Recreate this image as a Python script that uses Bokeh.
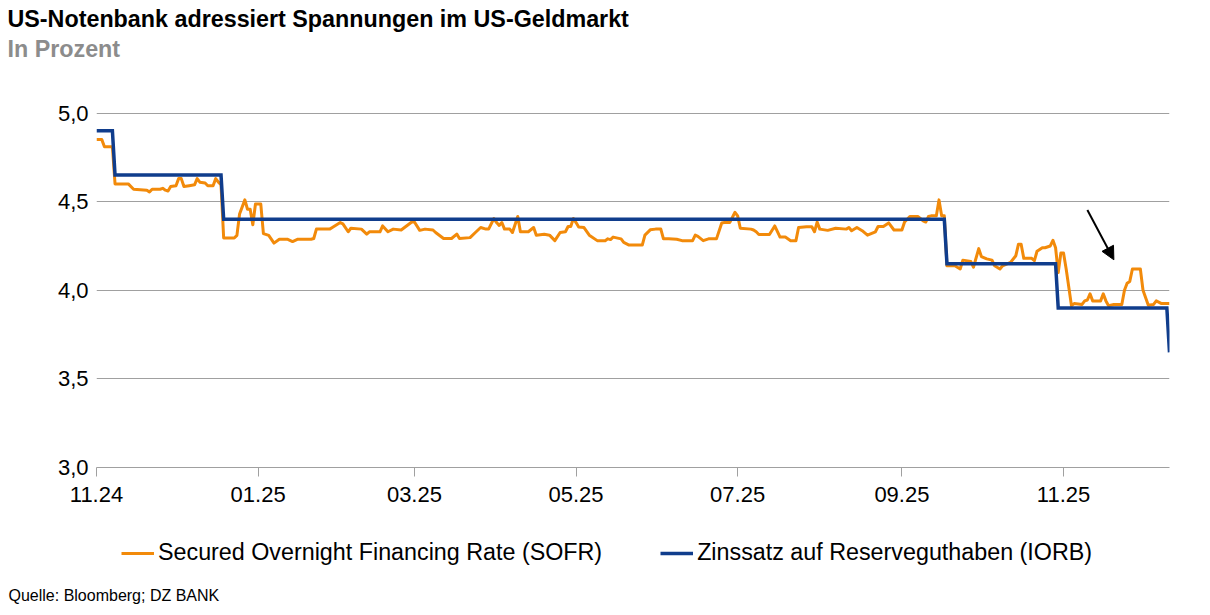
import pandas as pd
from bokeh.plotting import figure
from bokeh.layouts import column
from bokeh.models import (Range1d, FixedTicker, ColumnDataSource, Legend,
                          LegendItem, Arrow, NormalHead, Label)
from bokeh.embed import file_html
from bokeh.resources import INLINE

# ---------------- data ----------------
title_text = "US-Notenbank adressiert Spannungen im US-Geldmarkt"
subtitle_text = "In Prozent"
source_text = "Quelle: Bloomberg; DZ BANK"
sofr_name = "Secured Overnight Financing Rate (SOFR)"
iorb_name = "Zinssatz auf Reserveguthaben (IORB)"

sofr_dates = [
    "2024-11-01", "2024-11-03", "2024-11-04", "2024-11-07", "2024-11-08", "2024-11-13", "2024-11-15",
    "2024-11-20", "2024-11-21", "2024-11-22", "2024-11-25", "2024-11-26", "2024-11-27", "2024-11-28",
    "2024-11-29", "2024-12-01", "2024-12-02", "2024-12-03", "2024-12-04", "2024-12-06", "2024-12-08",
    "2024-12-09", "2024-12-10", "2024-12-12", "2024-12-13", "2024-12-15", "2024-12-16", "2024-12-17",
    "2024-12-18", "2024-12-19", "2024-12-23", "2024-12-24", "2024-12-25", "2024-12-27", "2024-12-28",
    "2024-12-29", "2024-12-30", "2024-12-31",
    "2025-01-02", "2025-01-03", "2025-01-05", "2025-01-07", "2025-01-09", "2025-01-12", "2025-01-14",
    "2025-01-16", "2025-01-21", "2025-01-22", "2025-01-23", "2025-01-28", "2025-01-29",
    "2025-02-01", "2025-02-02", "2025-02-04", "2025-02-05", "2025-02-09", "2025-02-11", "2025-02-12",
    "2025-02-16", "2025-02-17", "2025-02-19", "2025-02-21", "2025-02-24", "2025-02-28",
    "2025-03-01", "2025-03-03", "2025-03-05", "2025-03-08", "2025-03-09", "2025-03-12", "2025-03-15",
    "2025-03-17", "2025-03-18", "2025-03-22", "2025-03-24", "2025-03-26", "2025-03-28", "2025-03-29",
    "2025-03-31", "2025-04-01", "2025-04-02", "2025-04-03", "2025-04-04", "2025-04-06", "2025-04-07",
    "2025-04-09", "2025-04-10", "2025-04-13", "2025-04-15", "2025-04-16", "2025-04-19", "2025-04-21",
    "2025-04-23", "2025-04-25", "2025-04-27", "2025-04-28", "2025-04-29", "2025-04-30",
    "2025-05-01", "2025-05-02", "2025-05-04", "2025-05-06", "2025-05-09", "2025-05-12", "2025-05-13",
    "2025-05-14", "2025-05-15", "2025-05-18", "2025-05-19", "2025-05-21", "2025-05-26", "2025-05-27",
    "2025-05-29", "2025-05-31",
    "2025-06-02", "2025-06-03", "2025-06-05", "2025-06-08", "2025-06-10", "2025-06-14", "2025-06-15",
    "2025-06-16", "2025-06-18", "2025-06-20", "2025-06-23", "2025-06-25", "2025-06-26", "2025-06-28",
    "2025-06-30",
    "2025-07-01", "2025-07-02", "2025-07-06", "2025-07-07", "2025-07-08", "2025-07-09", "2025-07-13",
    "2025-07-15", "2025-07-17", "2025-07-19", "2025-07-21", "2025-07-23", "2025-07-24", "2025-07-27",
    "2025-07-29", "2025-07-30", "2025-07-31",
    "2025-08-01", "2025-08-04", "2025-08-07", "2025-08-11", "2025-08-12", "2025-08-13", "2025-08-15",
    "2025-08-17", "2025-08-19", "2025-08-22", "2025-08-23", "2025-08-25", "2025-08-27", "2025-08-29",
    "2025-09-01", "2025-09-02", "2025-09-04", "2025-09-07", "2025-09-09", "2025-09-10", "2025-09-11",
    "2025-09-12", "2025-09-14", "2025-09-15", "2025-09-16", "2025-09-17", "2025-09-18", "2025-09-21",
    "2025-09-23", "2025-09-24", "2025-09-27", "2025-09-28", "2025-09-30",
    "2025-10-01", "2025-10-03", "2025-10-05", "2025-10-06", "2025-10-08", "2025-10-09", "2025-10-12",
    "2025-10-14", "2025-10-15", "2025-10-16", "2025-10-17", "2025-10-20", "2025-10-21", "2025-10-22",
    "2025-10-24", "2025-10-25", "2025-10-27", "2025-10-28", "2025-10-29", "2025-10-30", "2025-10-31",
    "2025-11-01", "2025-11-02", "2025-11-04", "2025-11-05", "2025-11-08", "2025-11-09", "2025-11-10",
    "2025-11-11", "2025-11-12", "2025-11-15", "2025-11-16", "2025-11-17", "2025-11-18", "2025-11-20",
    "2025-11-23", "2025-11-24", "2025-11-25", "2025-11-26", "2025-11-27", "2025-11-30",
    "2025-12-01", "2025-12-03", "2025-12-05", "2025-12-06", "2025-12-08", "2025-12-11",
]
sofr_values = [
    4.85, 4.85, 4.81, 4.81, 4.60, 4.60, 4.57,
    4.565, 4.555, 4.57, 4.57, 4.575, 4.565, 4.56,
    4.585, 4.59, 4.63, 4.63, 4.585, 4.59, 4.595,
    4.63, 4.61, 4.605, 4.59, 4.59, 4.63, 4.61,
    4.595, 4.295, 4.295, 4.31, 4.43, 4.51, 4.457,
    4.457, 4.37, 4.487,
    4.487, 4.32, 4.31, 4.266, 4.288, 4.288, 4.275,
    4.288, 4.288, 4.292, 4.345, 4.345, 4.354,
    4.382, 4.375, 4.33, 4.35, 4.345, 4.317, 4.33,
    4.33, 4.363, 4.33, 4.345, 4.34, 4.385,
    4.385, 4.338, 4.345, 4.34, 4.326, 4.292, 4.292,
    4.317, 4.292, 4.297, 4.326, 4.354, 4.345, 4.345,
    4.405, 4.382, 4.366, 4.382, 4.345, 4.345, 4.326,
    4.416, 4.33, 4.33, 4.354, 4.311, 4.316, 4.311,
    4.28, 4.326, 4.33, 4.36, 4.36, 4.405,
    4.382, 4.357, 4.354, 4.311, 4.28, 4.28, 4.29,
    4.286, 4.30, 4.29, 4.27, 4.255, 4.255, 4.311,
    4.341, 4.345,
    4.345, 4.29, 4.29, 4.288, 4.28, 4.28, 4.311,
    4.304, 4.28, 4.29, 4.29, 4.38, 4.382, 4.382,
    4.44,
    4.42, 4.35, 4.345, 4.34, 4.33, 4.315, 4.315,
    4.363, 4.30, 4.30, 4.28, 4.28, 4.354, 4.358,
    4.358, 4.33, 4.385,
    4.345, 4.338, 4.35, 4.345, 4.354, 4.336, 4.354,
    4.336, 4.311, 4.33, 4.36, 4.36, 4.38, 4.34,
    4.34, 4.385, 4.416, 4.416, 4.392, 4.385, 4.416,
    4.42, 4.42, 4.51, 4.42, 4.42, 4.138, 4.138,
    4.12, 4.17, 4.163, 4.13, 4.235,
    4.19, 4.177, 4.17, 4.138, 4.12, 4.138, 4.157,
    4.195, 4.26, 4.26, 4.18, 4.18, 4.167, 4.22,
    4.24, 4.24, 4.25, 4.282, 4.24, 4.10, 4.21,
    4.21, 4.12, 3.913, 3.925, 3.92, 3.94, 3.945,
    3.98, 3.94, 3.94, 3.98, 3.94, 3.913, 3.92,
    3.92, 4.00, 4.04, 4.05, 4.12, 4.12,
    4.00, 3.916, 3.92, 3.94, 3.925, 3.925,
]

iorb_dates = ["2024-11-01", "2024-11-07", "2024-11-08", "2024-12-18", "2024-12-19",
              "2025-09-17", "2025-09-18", "2025-10-29", "2025-10-30", "2025-12-10", "2025-12-11"]
iorb_values = [4.90, 4.90, 4.65, 4.65, 4.40, 4.40, 4.15, 4.15, 3.90, 3.90, 3.65]

x_tick_dates = ["2024-11-01", "2025-01-01", "2025-03-01", "2025-05-01",
                "2025-07-01", "2025-09-01", "2025-11-01"]
x_tick_labels = ["11.24", "01.25", "03.25", "05.25", "07.25", "09.25", "11.25"]
y_ticks = [3.0, 3.5, 4.0, 4.5, 5.0]
y_tick_labels = ["3,0", "3,5", "4,0", "4,5", "5,0"]
x_start, x_end = "2024-11-01", "2025-12-11"
y_start, y_end = 3.0, 5.003
arrow_start = ("2025-11-10", 4.453)
arrow_end = ("2025-11-20", 4.172)

# ---------------- style ----------------
FONT = "Liberation Sans"
ORANGE = "#f28a0a"
NAVY = "#103d8c"
GRID = "#a0a0a0"
W = 1210
HEADER_H, MAIN_H, FOOTER_H = 100, 425, 90
NAN = float("nan")


def ms(d):
    return pd.Timestamp(d).value // 10**6


def no_align(f):
    if "frame_align" in type(f).properties():
        f.frame_align = False


def blank(h):
    f = figure(width=W, height=h, x_range=Range1d(0, W), y_range=Range1d(h, 0),
               x_axis_location=None, y_axis_location=None, min_border=0,
               output_backend="svg", toolbar_location=None)
    f.grid.visible = False
    f.outline_line_color = None
    f.background_fill_color = "white"
    f.border_fill_color = "white"
    no_align(f)
    return f


# ---------------- header (title / subtitle) ----------------
header = blank(HEADER_H)
header.add_layout(Label(x=7, y=18, text=title_text, text_font=FONT, text_font_style="bold",
                        text_font_size="23.3px", text_color="black", text_baseline="middle"))
header.add_layout(Label(x=7, y=48, text=subtitle_text, text_font=FONT, text_font_style="bold",
                        text_font_size="23.3px", text_color="#8c8c8c", text_baseline="middle"))

# ---------------- main chart ----------------
sofr_src = ColumnDataSource(dict(x=pd.to_datetime(sofr_dates), y=sofr_values))
iorb_src = ColumnDataSource(dict(x=pd.to_datetime(iorb_dates), y=iorb_values))

p = figure(width=W, height=MAIN_H, x_axis_type="datetime",
           x_range=Range1d(pd.Timestamp(x_start), pd.Timestamp(x_end)),
           y_range=Range1d(y_start, y_end),
           output_backend="svg", toolbar_location=None,
           min_border_left=96, min_border_right=41, min_border_top=12, min_border_bottom=58)
p.outline_line_color = None
p.background_fill_color = "white"
p.border_fill_color = "white"
no_align(p)

p.line("x", "y", source=sofr_src, line_color=ORANGE, line_width=3, line_join="round")
p.line("x", "y", source=iorb_src, line_color=NAVY, line_width=3.5, line_join="miter")

p.xaxis.ticker = FixedTicker(ticks=[ms(d) for d in x_tick_dates])
p.xaxis.major_label_overrides = {ms(d): l for d, l in zip(x_tick_dates, x_tick_labels)}
p.xaxis.minor_tick_line_color = None
p.xaxis.axis_line_color = GRID
p.xaxis.major_tick_line_color = GRID
p.xaxis.major_tick_in = 0
p.xaxis.major_tick_out = 9
p.xaxis.major_label_standoff = 10
p.xaxis.major_label_text_font = FONT
p.xaxis.major_label_text_font_size = "22px"
p.xaxis.major_label_text_color = "black"

p.yaxis.ticker = FixedTicker(ticks=y_ticks)
p.yaxis.major_label_overrides = {t: l for t, l in zip(y_ticks, y_tick_labels)}
p.yaxis.axis_line_color = None
p.yaxis.major_tick_line_color = None
p.yaxis.minor_tick_line_color = None
p.yaxis.major_tick_out = 0
p.yaxis.major_label_standoff = 8
p.yaxis.major_label_text_font = FONT
p.yaxis.major_label_text_font_size = "22px"
p.yaxis.major_label_text_color = "black"

p.xgrid.grid_line_color = None
p.ygrid.grid_line_color = GRID
p.ygrid.grid_line_width = 1

p.add_layout(Arrow(end=NormalHead(size=13, fill_color="black", line_color="black", line_width=1),
                   x_start=ms(arrow_start[0]), y_start=arrow_start[1],
                   x_end=ms(arrow_end[0]), y_end=arrow_end[1],
                   line_color="black", line_width=2))

# ---------------- footer (legend / source) ----------------
footer = blank(FOOTER_H)
k_sofr = footer.line(x=[NAN], y=[NAN], line_color=ORANGE, line_width=3)
k_iorb = footer.line(x=[NAN], y=[NAN], line_color=NAVY, line_width=3.5)
legend = Legend(items=[LegendItem(label=sofr_name, renderers=[k_sofr]),
                       LegendItem(label=iorb_name, renderers=[k_iorb])],
                orientation="horizontal", location=(121, 49),
                glyph_width=33, glyph_height=26, label_height=26, label_standoff=4,
                spacing=58, padding=0, margin=0,
                label_text_font=FONT, label_text_font_size="23.3px",
                label_text_color="black", background_fill_alpha=0,
                border_line_color=None)
footer.add_layout(legend, "center")
footer.add_layout(Label(x=8, y=70, text=source_text, text_font=FONT,
                        text_font_size="16px", text_color="black", text_baseline="middle"))

layout = column(header, p, footer, spacing=0)
open("out.html", "w").write(file_html(layout, INLINE))
